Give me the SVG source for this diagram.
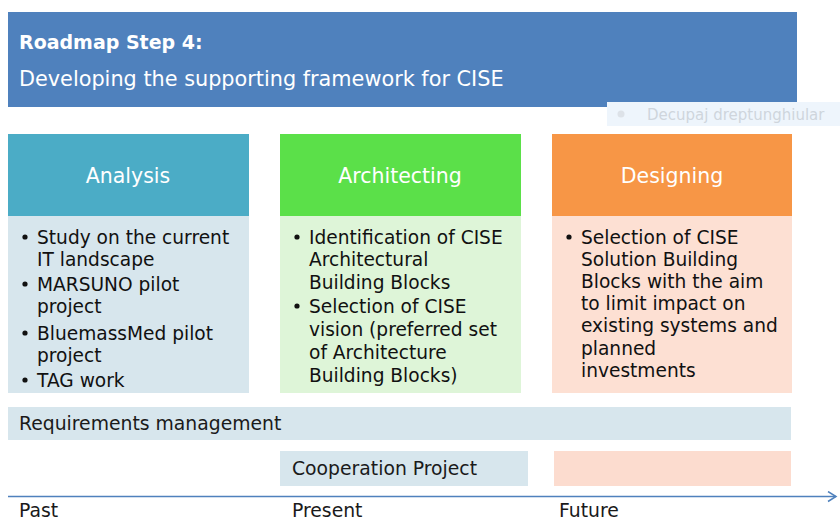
<svg xmlns="http://www.w3.org/2000/svg" width="840" height="521" viewBox="0 0 840 521">
<defs>
<style>
text{font-family:"DejaVu Sans","Liberation Sans",sans-serif}
.hd{fill:#ffffff;font-size:20.5px;text-anchor:middle}
.bl{fill:#111111;font-size:18.6px}
.lb{fill:#1a1a1a;font-size:18.8px}
.dot{fill:#111111}
</style>
<marker id="arr" markerWidth="12" markerHeight="12" refX="9" refY="6" orient="auto" markerUnits="userSpaceOnUse">
<path d="M1,1 L9,6 L1,11" fill="none" stroke="#4f81bd" stroke-width="1.5"/>
</marker>
</defs>
<rect width="840" height="521" fill="#ffffff"/>

<g id="title">
<rect x="8" y="12" width="789" height="95" fill="#4f81bd"/>
<text x="19" y="49" fill="#ffffff" font-size="19" font-weight="bold">Roadmap Step 4:</text>
<text x="19" y="86" fill="#ffffff" font-size="20.8">Developing the supporting framework for CISE</text>
</g>

<g id="tooltip">
<rect x="607" y="102" width="233" height="24" fill="#eef5fc"/>
<circle cx="621" cy="114" r="3.5" fill="#dde2e8"/>
<text x="647" y="120" fill="#cfd5dc" font-size="15">Decupaj dreptunghiular</text>
</g>

<g id="analysis">
<rect x="8" y="134" width="241" height="82" fill="#4bacc6"/>
<rect x="8" y="216" width="241" height="177" fill="#d7e6ed"/>
<text class="hd" x="128" y="183">Analysis</text>
<circle class="dot" cx="25" cy="237" r="2.6"/>
<text class="bl" x="37" y="244">Study on the current</text>
<text class="bl" x="37" y="266">IT landscape</text>
<circle class="dot" cx="25" cy="284" r="2.6"/>
<text class="bl" x="37" y="291">MARSUNO pilot</text>
<text class="bl" x="37" y="313">project</text>
<circle class="dot" cx="25" cy="333" r="2.6"/>
<text class="bl" x="37" y="340">BluemassMed pilot</text>
<text class="bl" x="37" y="362">project</text>
<circle class="dot" cx="25" cy="380" r="2.6"/>
<text class="bl" x="37" y="387">TAG work</text>
</g>

<g id="architecting">
<rect x="280" y="134" width="241" height="82" fill="#5be049"/>
<rect x="280" y="216" width="241" height="177" fill="#def5d8"/>
<text class="hd" x="400" y="183">Architecting</text>
<circle class="dot" cx="297" cy="237" r="2.6"/>
<text class="bl" x="309" y="244">Identification of CISE</text>
<text class="bl" x="309" y="266">Architectural</text>
<text class="bl" x="309" y="289">Building Blocks</text>
<circle class="dot" cx="297" cy="306" r="2.6"/>
<text class="bl" x="309" y="313">Selection of CISE</text>
<text class="bl" x="309" y="336">vision (preferred set</text>
<text class="bl" x="309" y="359">of Architecture</text>
<text class="bl" x="309" y="382">Building Blocks)</text>
</g>

<g id="designing">
<rect x="552" y="134" width="240" height="82" fill="#f79646"/>
<rect x="552" y="216" width="240" height="177" fill="#fde0d3"/>
<text class="hd" x="672" y="183">Designing</text>
<circle class="dot" cx="569" cy="237" r="2.6"/>
<text class="bl" x="581" y="244">Selection of CISE</text>
<text class="bl" x="581" y="266">Solution Building</text>
<text class="bl" x="581" y="288">Blocks with the aim</text>
<text class="bl" x="581" y="310">to limit impact on</text>
<text class="bl" x="581" y="332">existing systems and</text>
<text class="bl" x="581" y="355">planned</text>
<text class="bl" x="581" y="377">investments</text>
</g>

<g id="requirements">
<rect x="8" y="407" width="783" height="33" fill="#d7e6ed"/>
<text class="lb" x="19" y="430">Requirements management</text>
</g>

<g id="cooperation">
<rect x="280" y="451" width="248" height="35" fill="#d7e6ed"/>
<text class="lb" x="292" y="475">Cooperation Project</text>
</g>

<g id="future-block">
<rect x="554" y="451" width="237" height="35" fill="#fcdccf"/>
</g>

<g id="connectors">
<line x1="8" y1="496.5" x2="836" y2="496.5" stroke="#4f81bd" stroke-width="1.5" marker-end="url(#arr)"/>
</g>

<g id="timeline-labels">
<text class="lb" x="19" y="517" font-size="18.5">Past</text>
<text class="lb" x="292" y="517" font-size="18.5">Present</text>
<text class="lb" x="559" y="517" font-size="18.5">Future</text>
</g>
</svg>
